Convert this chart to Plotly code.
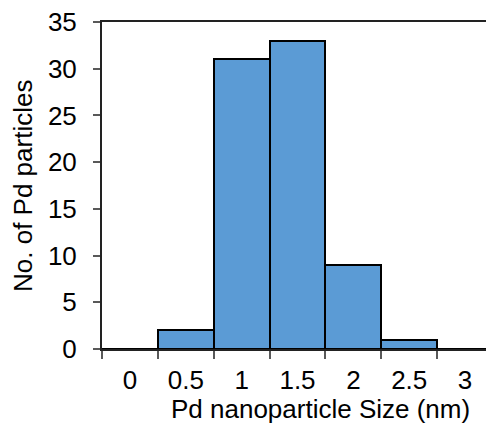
import plotly.graph_objects as go

categories = ["0", "0.5", "1", "1.5", "2", "2.5", "3"]
counts = [0, 2, 31, 33, 9, 1, 0]
y_ticks = [0, 5, 10, 15, 20, 25, 30, 35]

OFF = 8  # default page body margin
W, H = 494 - OFF, 427 - OFF
L, R, T, B = 102 - OFF, 1, 22 - OFF, 427 - 349
pw = W - L - R
ph = H - T - B

FONT = "Liberation Sans, Arial, sans-serif"
FS = 26


def px_x(px):
    return (px - OFF - L) / pw


def px_y(py):
    return (H - B - (py - OFF)) / ph


fig = go.Figure(go.Bar(
    x=categories, y=counts,
    marker=dict(color="#5B9BD5", line=dict(color="black", width=2)),
))

fig.update_layout(
    width=W, height=H,
    margin=dict(l=L, r=R, t=T, b=B, autoexpand=False),
    paper_bgcolor="white", plot_bgcolor="white",
    bargap=0, showlegend=False,
    font=dict(family=FONT, size=FS, color="black"),
    xaxis=dict(
        type="category", range=[-0.5, 6.5],
        tickson="boundaries", ticks="outside", ticklen=8, tickwidth=1.5, tickcolor="#595959",
        showline=True, linecolor="#222222", linewidth=2, mirror=True,
        showgrid=False, zeroline=False,
        ticklabelstandoff=7, ticklabeloverflow="allow",
        tickfont=dict(family=FONT, size=FS, color="black"),
    ),
    yaxis=dict(
        range=[0, 35], tickvals=y_ticks,
        ticks="outside", ticklen=7, tickwidth=1.5, tickcolor="#595959",
        showline=True, linecolor="#222222", linewidth=2, mirror=True,
        showgrid=False, zeroline=False,
        ticklabelstandoff=11, ticklabeloverflow="allow",
        tickfont=dict(family=FONT, size=FS, color="black"),
    ),
    annotations=[
        dict(text="Pd nanoparticle Size (nm)", xref="paper", yref="paper",
             x=px_x(320), y=px_y(409),
             xanchor="center", yanchor="middle", showarrow=False,
             font=dict(family=FONT, size=FS, color="black")),
        dict(text="No. of Pd particles", xref="paper", yref="paper",
             x=px_x(23), y=px_y(186),
             xanchor="center", yanchor="middle", textangle=-90, showarrow=False,
             font=dict(family=FONT, size=FS, color="black")),
    ],
)

fig.write_html("out.html")
